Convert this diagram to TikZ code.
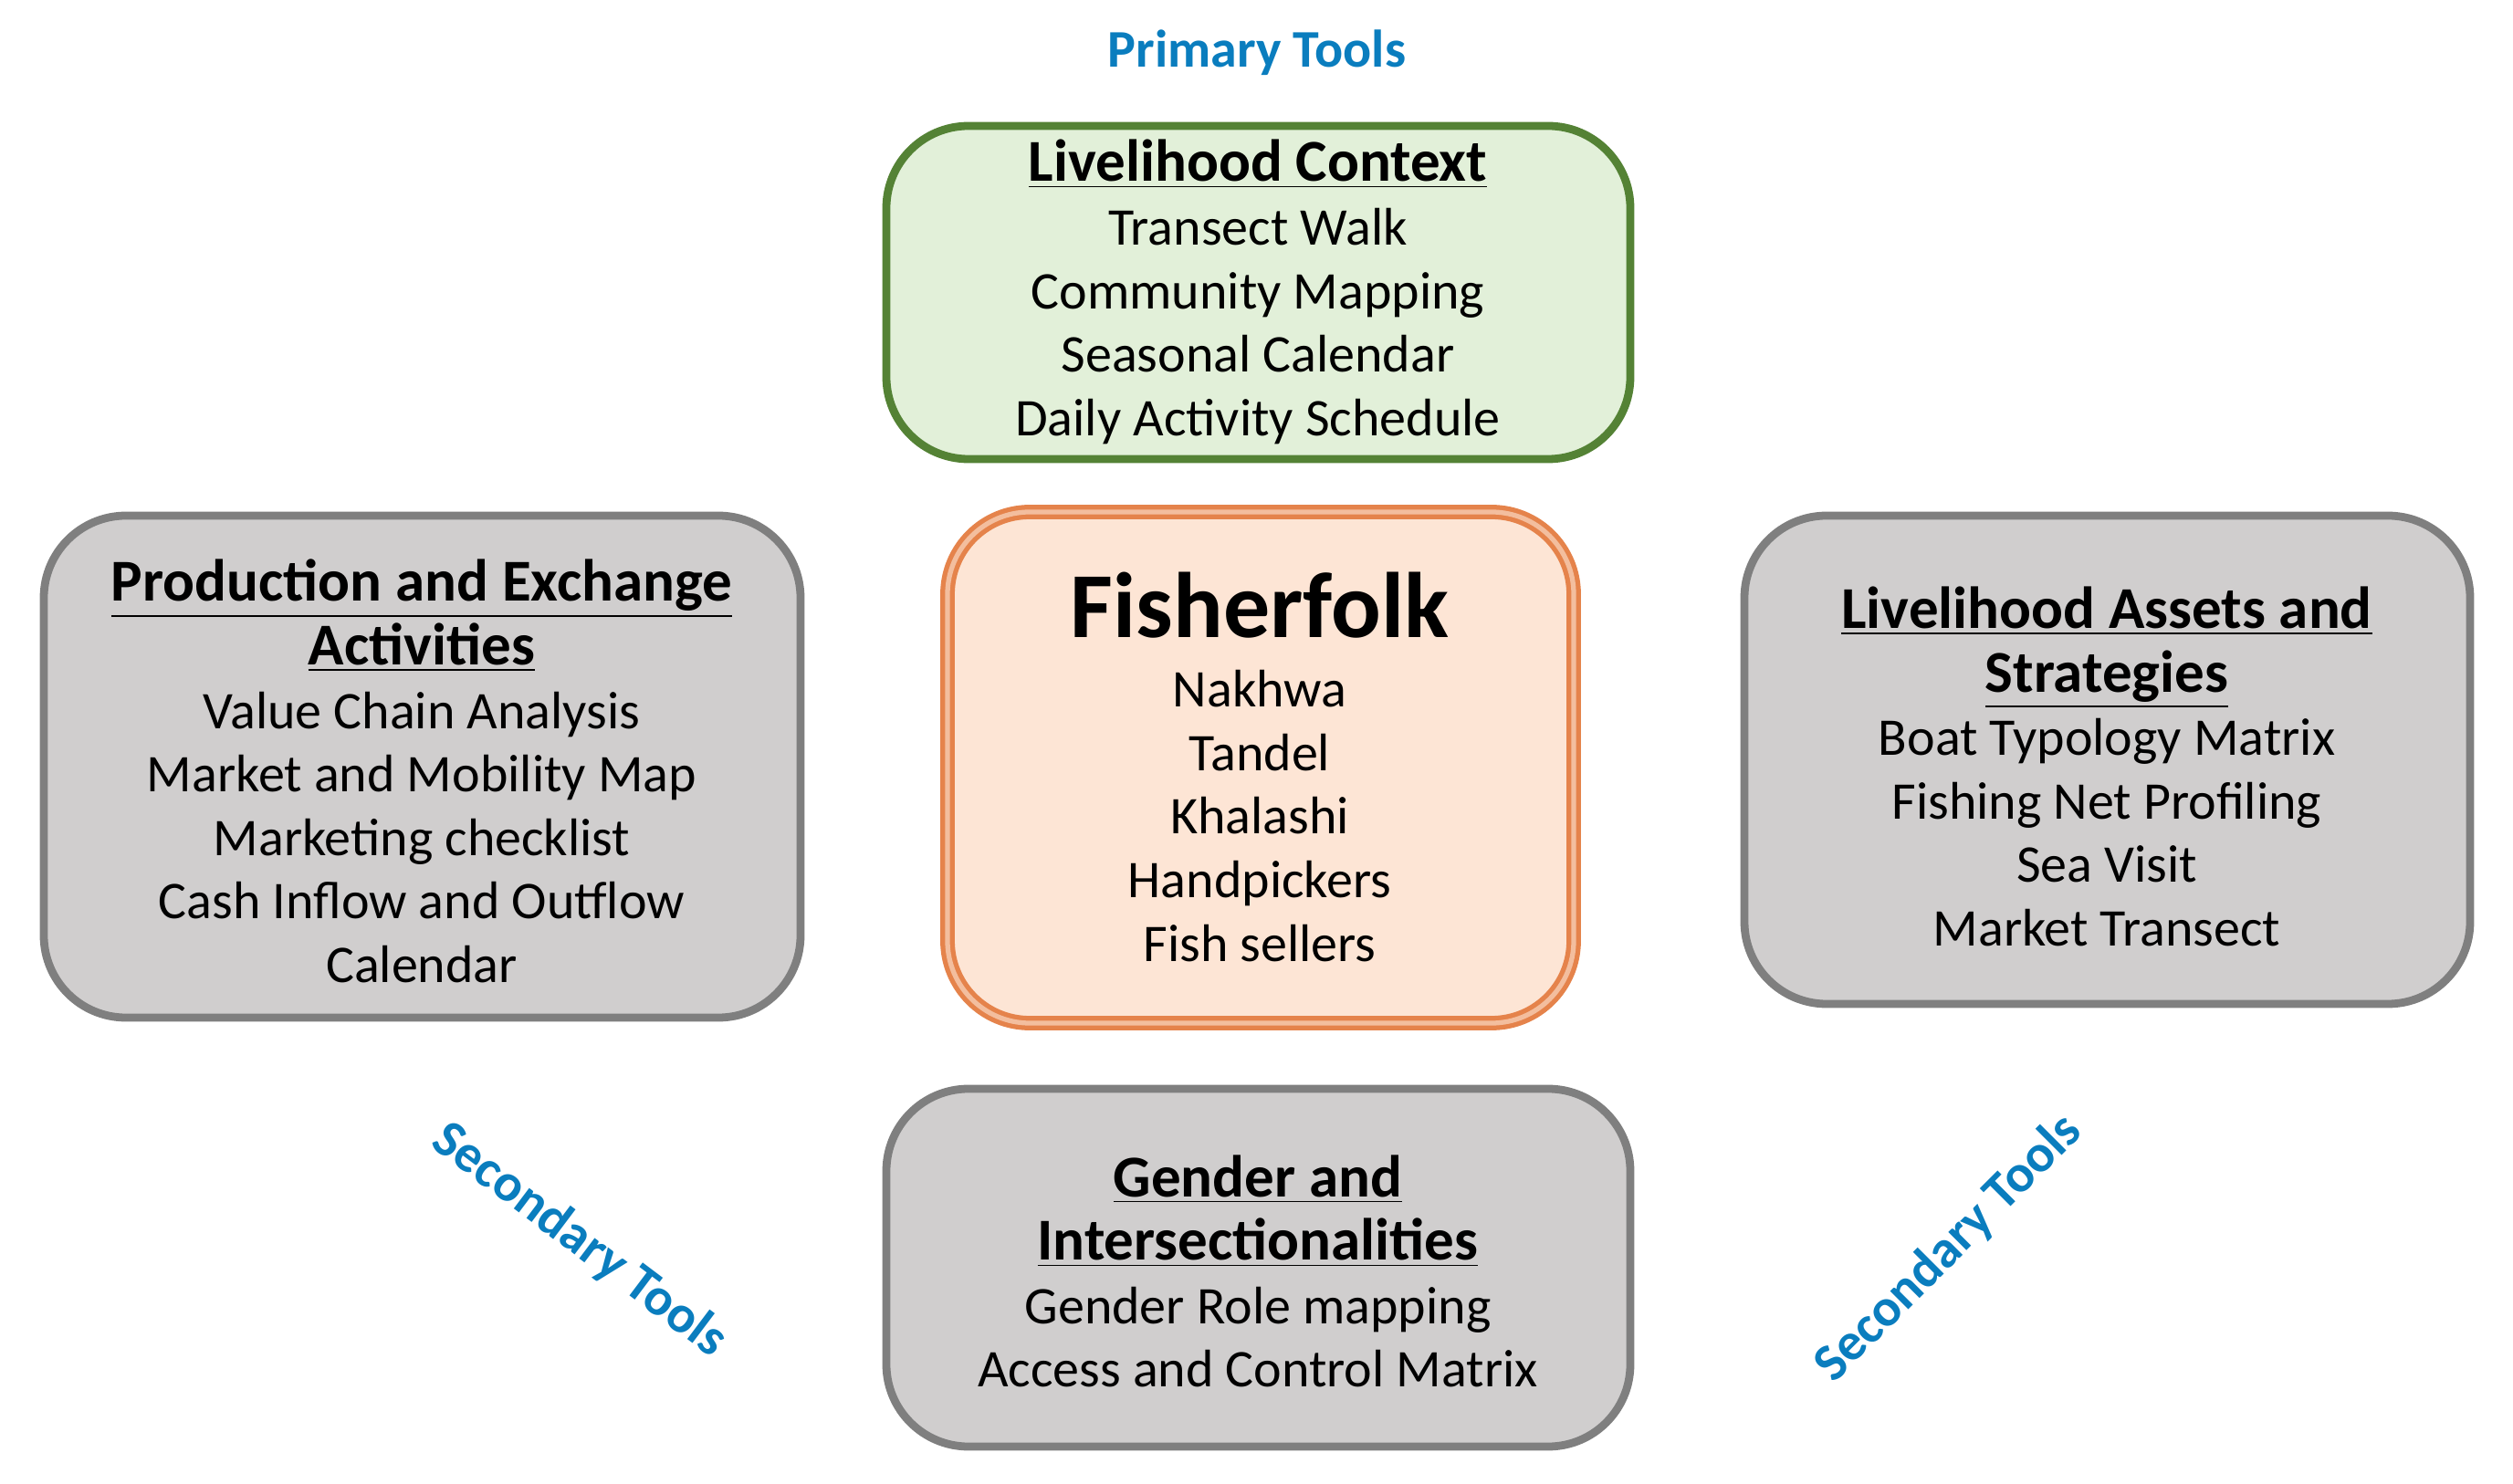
\documentclass[tikz,border=0pt]{standalone}
\usepackage{fontspec}
\setmainfont{Carlito}
\definecolor{gfill}{HTML}{E2F0D9}
\definecolor{gline}{HTML}{548235}
\definecolor{grfill}{HTML}{D0CECE}
\definecolor{grline}{HTML}{7F7F7F}
\definecolor{ofill}{HTML}{FDE5D5}
\definecolor{oline}{HTML}{E5834B}
\definecolor{tblue}{HTML}{0A7DBE}
\newcommand{\hd}[1]{{\fontsize{18.5}{22}\selectfont\textbf{\underline{#1}}}}
\begin{document}
\begin{tikzpicture}[
  box/.style={rounded corners=0.9cm, line width=2.5pt},
  txt/.style={align=center, font=\fontsize{16.5}{19.8}\selectfont},
  lab/.style={text=tblue, font=\fontsize{16.5}{18}\selectfont\bfseries}]
\useasboundingbox (0,0) rectangle (27.53,-16.26);
\draw[box, fill=gfill, draw=gline] (9.71,-1.38) rectangle (17.86,-5.03);
\node[txt] (lc) at (13.78,-3.2) {\hd{Livelihood Context}\\Transect Walk\\Community Mapping\\Seasonal Calendar\\Daily Activity Schedule};
\draw[box, fill=grfill, draw=grline] (0.48,-5.65) rectangle (8.77,-11.15);
\node[txt] (pe) at (4.62,-8.45) {\hd{Production and Exchange}\\\hd{Activities}\\Value Chain Analysis\\Market and Mobility Map\\Marketing checklist\\Cash Inflow and Outflow\\Calendar};
\draw[box, fill=ofill, draw=oline, double=ofill!60!oline, double distance=1.5pt, line width=1.5pt] (10.38,-5.61) rectangle (17.24,-11.21);
\node[txt] (ff) at (13.8,-8.4) {{\fontsize{29}{34}\selectfont\textbf{Fisherfolk}}\\[2pt]Nakhwa\\Tandel\\Khalashi\\Handpickers\\Fish sellers};
\draw[box, fill=grfill, draw=grline] (19.11,-5.65) rectangle (27.06,-11.0);
\node[txt] (la) at (23.08,-8.4) {\hd{Livelihood Assets and}\\\hd{Strategies}\\Boat Typology Matrix\\Fishing Net Profiling\\Sea Visit\\Market Transect};
\draw[box, fill=grfill, draw=grline] (9.71,-11.93) rectangle (17.86,-15.85);
\node[txt] (gi) at (13.78,-13.93) {\hd{Gender and}\\\hd{Intersectionalities}\\Gender Role mapping\\Access and Control Matrix};
\node[lab] (pt) at (13.77,-0.58) {Primary Tools};
\node[lab, rotate=-37] (s1) at (6.35,-13.59) {Secondary Tools};
\node[lab, rotate=45] (s2) at (21.35,-13.68) {Secondary Tools};
\end{tikzpicture}
\end{document}
